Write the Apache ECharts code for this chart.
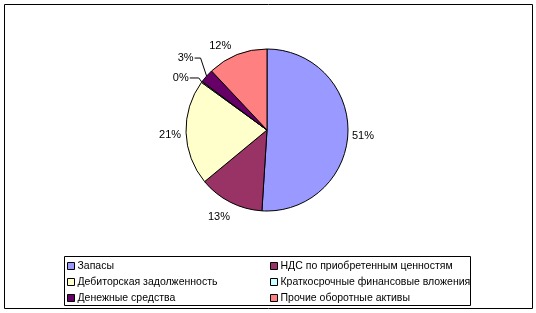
<!DOCTYPE html>
<html><head><meta charset="utf-8">
<script src="https://cdn.jsdelivr.net/npm/echarts@6/dist/echarts.min.js"></script>
<style>html,body{margin:0;padding:0;background:#fff}#c{width:536px;height:313px}</style>
</head><body><div id="c"></div>
<script>
const categories = ['Запасы','НДС по приобретенным ценностям','Дебиторская задолженность','Краткосрочные финансовые вложения','Денежные средства','Прочие оборотные активы'];
const values = [51, 13, 21, 0.2, 2.8, 12];
const colors = ['#9999FF','#993366','#FFFFCC','#CCFFFF','#660066','#FF8080'];

const FONT = '"Liberation Sans", Arial, sans-serif';
// per-slice label tweaks (layout only)
const lineCfg = [
  {show:false, length:1, length2:0},
  {show:false, length:16, length2:0},
  {show:false, length:2, length2:0},
  {show:true, length:3, length2:8},
  {show:true, length:16, length2:5},
  {show:false, length:8, length2:0}
];
const labelShift = [[0,3],[10,1],[0,2],null,null,[0,-1]];
// leader-line bends relative to slice edge point: [bendDx, bendDy, endDx]
const leaderBend = {3:[-3,-4,-12], 4:[-6,-18,-12]};

const data = categories.map((n,i)=>({
  name:n, value:values[i],
  itemStyle:{color:colors[i]},
  labelLine:{show:lineCfg[i].show, length:lineCfg[i].length, length2:lineCfg[i].length2, lineStyle:{color:'#000',width:1}}
}));
const chart = echarts.init(document.getElementById('c'), null, {renderer:'canvas'});
const legendCommon = {
  orient:'vertical', top:258, itemWidth:7, itemHeight:7, itemGap:0, icon:'rect',
  textStyle:{fontFamily:FONT, fontSize:10.5, color:'#000', lineHeight:16, padding:[0,0,0,-2]},
  itemStyle:{borderColor:'#000', borderWidth:1}, selectedMode:false, padding:0
};
chart.setOption({
  animation:false,
  graphic:[
    {type:'rect', shape:{x:4.5,y:4.5,width:528,height:304}, style:{fill:'none',stroke:'#000',lineWidth:1}, z:-1},
    {type:'rect', shape:{x:64.5,y:256.5,width:406,height:49}, style:{fill:'#fff',stroke:'#000',lineWidth:1}, z:-1}
  ],
  legend:[
    Object.assign({left:67, data:[categories[0],categories[2],categories[4]]}, legendCommon),
    Object.assign({left:270, data:[categories[1],categories[3],categories[5]]}, legendCommon)
  ],
  series:[{
    type:'pie', center:[267,130], radius:81, startAngle:90, clockwise:true,
    avoidLabelOverlap:false, minAngle:0,
    itemStyle:{borderColor:'#000', borderWidth:1},
    label:{show:true, position:'outside', fontFamily:FONT, fontSize:11, color:'#000',
      distanceToLabelLine:3,
      formatter:p=>Math.round(p.value)+'%'},
    labelLayout:function(p){
      const i = p.dataIndex;
      if (leaderBend[i] && p.labelLinePoints) {
        const p0 = p.labelLinePoints[0];
        const b = leaderBend[i];
        return {
          labelLinePoints:[[p0[0],p0[1]],[p0[0]+b[0],p0[1]+b[1]],[p0[0]+b[2],p0[1]+b[1]]],
          x:p0[0]+b[2]-1, y:p0[1]+b[1], align:'right', verticalAlign:'middle'
        };
      }
      const s = labelShift[i];
      return s ? {dx:s[0], dy:s[1]} : {};
    },
    emphasis:{disabled:true},
    data:data
  }]
});
</script></body></html>
